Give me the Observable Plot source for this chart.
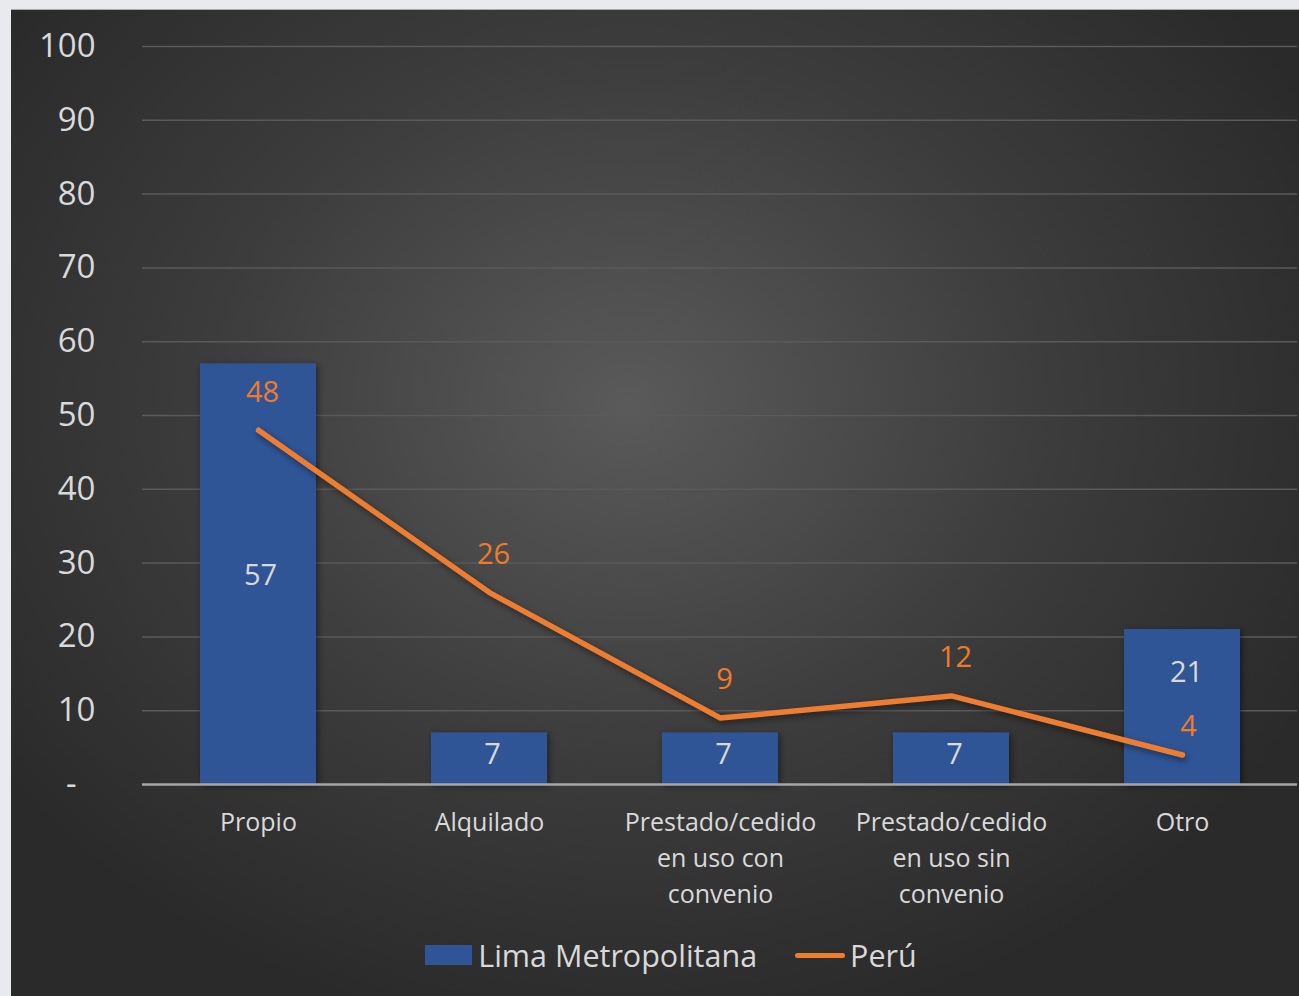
<!DOCTYPE html>
<html>
<head>
<meta charset="utf-8">
<script src="https://cdn.jsdelivr.net/npm/d3@7"></script>
<script src="https://cdn.jsdelivr.net/npm/@observablehq/plot@0.6"></script>
<style>
  html, body { margin: 0; padding: 0; }
  body { width: 1299px; height: 996px; background: #e9eaed; position: relative; overflow: hidden; font-family: "Open Sans", sans-serif; }
  #panel {
    position: absolute; left: 11px; top: 10px; width: 1288px; height: 986px;
    background: radial-gradient(ellipse 60% 65% at 48% 40%, #5a5a5a 0%, #3c3c3c 55%, #2a2a2a 100%);
    box-shadow: 0 -1px 0 #a9a9ad;
  }
  #chart svg { display: block; }
  g[aria-label="bar"] rect { filter: drop-shadow(2px 2px 3px rgba(0,0,0,0.45)); }
  g[aria-label="line"] path { filter: drop-shadow(2px 3px 3px rgba(0,0,0,0.45)); }
  #legend { position: absolute; left: 0; top: 925px; height: 40px; line-height: 40px; width: 100%; display: flex; justify-content: center; align-items: center; color: #d9d9d9; font-size: 30.5px; padding-left: 32px; box-sizing: border-box; }
  .sw { display: inline-block; width: 47px; height: 20px; background: #2f5597; margin-right: 6px; }
  .ln { display: inline-block; width: 50px; height: 5px; border-radius: 3px; background: #ed7d31; margin-left: 38px; margin-right: 5px; }
</style>
</head>
<body>
<div id="panel">
  <div id="chart"></div>
  <div id="legend"><span class="sw"></span><span>Lima Metropolitana</span><span class="ln"></span><span>Perú</span></div>
</div>
<script>
const categories = ["Propio", "Alquilado", "Prestado/cedido\nen uso con\nconvenio", "Prestado/cedido\nen uso sin\nconvenio", "Otro"];
const limaValues = [57, 7, 7, 7, 21];
const peruValues = [48, 26, 9, 12, 4];
const yTicks = [0, 10, 20, 30, 40, 50, 60, 70, 80, 90, 100];

const lima = categories.map((c, i) => ({cat: c, v: limaValues[i]}));
const peru = categories.map((c, i) => ({cat: c, v: peruValues[i]}));

const chart = Plot.plot({
  width: 1288,
  height: 915,
  marginLeft: 131,
  marginRight: 2,
  marginTop: 36,
  marginBottom: 141,
  style: {background: "transparent", color: "#d9d9d9", fontFamily: "Open Sans, sans-serif"},
  x: {domain: categories, paddingInner: 0.5, paddingOuter: 0.25, axis: null},
  y: {domain: [0, 100], axis: null},
  marks: [
    Plot.gridY(yTicks.filter(d => d > 0), {stroke: "#5a5a5a", strokeOpacity: 1, strokeWidth: 1.5}),
    Plot.axisY(yTicks, {tickSize: 0, tickPadding: 47, fontSize: 33, fill: "#d9d9d9", tickFormat: d => d === 0 ? "-\u2007" : String(d), label: null}),
    Plot.barY(lima, {x: "cat", y: "v", fill: "#2f5597"}),
    Plot.ruleY([0], {stroke: "#a6a6a6", strokeWidth: 2.5}),
    Plot.line(peru, {x: "cat", y: "v", stroke: "#ed7d31", strokeWidth: 5.5, strokeLinecap: "round", strokeLinejoin: "round"}),
    Plot.text(lima.filter(d => d.v > 20 && d.cat !== "Otro"), {x: "cat", y: d => d.v / 2, text: d => String(d.v), fill: "#d9d9d9", fontSize: 29, dy: 2, dx: 2}),
    Plot.text(lima.filter(d => d.v < 20), {x: "cat", y: d => d.v / 2, text: d => String(d.v), fill: "#d9d9d9", fontSize: 29, dy: -4, dx: 3}),
    Plot.text(lima.filter(d => d.cat === "Otro"), {x: "cat", y: "v", text: d => String(d.v), fill: "#d9d9d9", fontSize: 29, dy: 43, dx: 4}),
    Plot.text(peru.filter(d => d.cat !== "Otro"), {x: "cat", y: "v", text: d => String(d.v), fill: "#f07a2c", fontSize: 29, dy: -38, dx: 4}),
    Plot.text(peru.filter(d => d.cat === "Otro"), {x: "cat", y: "v", text: d => String(d.v), fill: "#f07a2c", fontSize: 29, dy: -28, dx: 6}),
    Plot.text(categories, {x: d => d, y: () => 0, text: d => d, fill: "#d9d9d9", fontSize: 25, lineAnchor: "top", dy: 21, lineHeight: 1.44})
  ]
});
document.getElementById("chart").appendChild(chart);
</script>
</body>
</html>
